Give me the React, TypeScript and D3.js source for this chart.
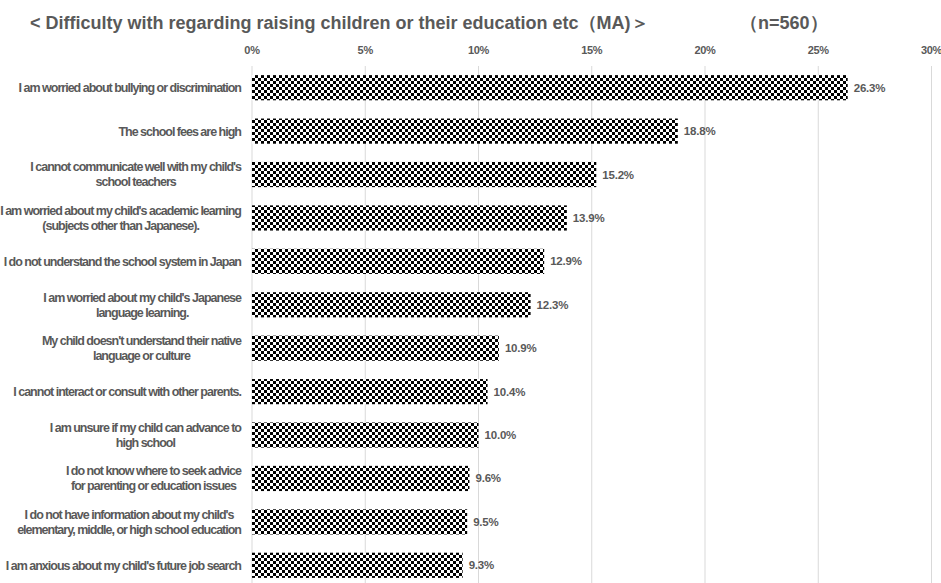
import React, { useEffect, useRef } from "react";
import * as d3 from "d3";

const TITLE = "< Difficulty with regarding raising children or their education etc（MA)＞";
const N_LABEL = "（n=560）";

const categories: string[][] = [
  ["I am worried about bullying or discrimination"],
  ["The school fees are high"],
  ["I cannot communicate well with my child's", "school teachers"],
  ["I am worried about my child's academic learning", "(subjects other than Japanese)."],
  ["I do not understand the school system in Japan"],
  ["I am worried about my child's Japanese", "language learning."],
  ["My child doesn't understand their native", "language or culture"],
  ["I cannot interact or consult with other parents."],
  ["I am unsure if my child can advance to", "high school"],
  ["I do not know where to seek advice", "for parenting or education issues"],
  ["I do not have information about my child's", "elementary, middle, or high school education"],
  ["I am anxious about my child's future job search"],
];
const values: number[] = [26.3, 18.8, 15.2, 13.9, 12.9, 12.3, 10.9, 10.4, 10.0, 9.6, 9.5, 9.3];
const ticks: number[] = [0, 5, 10, 15, 20, 25, 30];

const W = 941;
const H = 583;
const GRAY = "#595959";
const FONT = "'Liberation Sans', Arial, sans-serif";

export default function App() {
  const ref = useRef<SVGSVGElement | null>(null);

  useEffect(() => {
    const svg = d3.select(ref.current);
    svg.selectAll("*").remove();

    const x = d3.scaleLinear().domain([0, 30]).range([252, 931.5]);
    const ids = categories.map((_, i) => String(i));
    const y = d3
      .scaleBand<string>()
      .domain(ids)
      .range([66, 587])
      .paddingInner(0.42)
      .paddingOuter(0.21);

    const defs = svg.append("defs");
    const pat = defs
      .append("pattern")
      .attr("id", "checker")
      .attr("patternUnits", "userSpaceOnUse")
      .attr("x", 252)
      .attr("y", 0)
      .attr("width", 6)
      .attr("height", 6);
    pat.append("rect").attr("width", 6).attr("height", 6).attr("fill", "#fff");
    pat.append("rect").attr("x", 0).attr("y", 0).attr("width", 3).attr("height", 3).attr("fill", "#000");
    pat.append("rect").attr("x", 3).attr("y", 3).attr("width", 3).attr("height", 3).attr("fill", "#000");

    // title
    svg
      .append("text")
      .attr("x", 30)
      .attr("y", 29)
      .attr("font-family", FONT)
      .attr("font-weight", "bold")
      .attr("font-size", 18)
      .attr("fill", GRAY)
      .text(TITLE);
    svg
      .append("text")
      .attr("x", 740)
      .attr("y", 29)
      .attr("font-family", FONT)
      .attr("font-weight", "bold")
      .attr("font-size", 18)
      .attr("fill", GRAY)
      .text(N_LABEL);

    // gridlines
    svg
      .append("g")
      .selectAll("line")
      .data(ticks)
      .join("line")
      .attr("x1", (d) => x(d))
      .attr("x2", (d) => x(d))
      .attr("y1", 66)
      .attr("y2", H)
      .attr("stroke", "#d9d9d9")
      .attr("stroke-width", 1);

    // tick labels
    svg
      .append("g")
      .selectAll("text")
      .data(ticks)
      .join("text")
      .attr("x", (d) => x(d))
      .attr("y", 54)
      .attr("text-anchor", "middle")
      .attr("font-family", FONT)
      .attr("font-weight", "bold")
      .attr("font-size", 11)
      .attr("letter-spacing", -0.3)
      .attr("fill", GRAY)
      .text((d) => `${d}%`);

    // bars
    svg
      .append("g")
      .selectAll("rect")
      .data(values)
      .join("rect")
      .attr("x", x(0))
      .attr("y", (_, i) => y(String(i)) as number)
      .attr("width", (d) => x(d) - x(0))
      .attr("height", y.bandwidth())
      .attr("fill", "url(#checker)");

    // value labels
    svg
      .append("g")
      .selectAll("text")
      .data(values)
      .join("text")
      .attr("x", (d) => x(d) + 6)
      .attr("y", (_, i) => (y(String(i)) as number) + y.bandwidth() / 2)
      .attr("dy", "0.35em")
      .attr("font-family", FONT)
      .attr("font-weight", "bold")
      .attr("font-size", 11.5)
      .attr("letter-spacing", -0.2)
      .attr("fill", GRAY)
      .text((d) => `${d.toFixed(1)}%`);

    // category labels
    const right = 241;
    const lineH = 15;
    const lg = svg.append("g");
    categories.forEach((lines, i) => {
      const cy = (y(String(i)) as number) + y.bandwidth() / 2;
      const texts = lines.map((ln, j) =>
        lg
          .append("text")
          .attr("y", cy + (j - (lines.length - 1) / 2) * lineH)
          .attr("dy", "0.35em")
          .attr("font-family", FONT)
          .attr("font-weight", "bold")
          .attr("font-size", 12.5)
          .attr("letter-spacing", -1.0)
          .attr("fill", GRAY)
          .text(ln)
      );
      const widths = texts.map((t) => (t.node() as SVGTextElement).getComputedTextLength());
      const maxW = Math.max(...widths);
      const center = right - maxW / 2;
      texts.forEach((t) => t.attr("x", center).attr("text-anchor", "middle"));
    });
  }, []);

  return (
    <svg
      ref={ref}
      width={W}
      height={H}
      style={{ position: "absolute", left: 0, top: 0, background: "#fff" }}
    />
  );
}
